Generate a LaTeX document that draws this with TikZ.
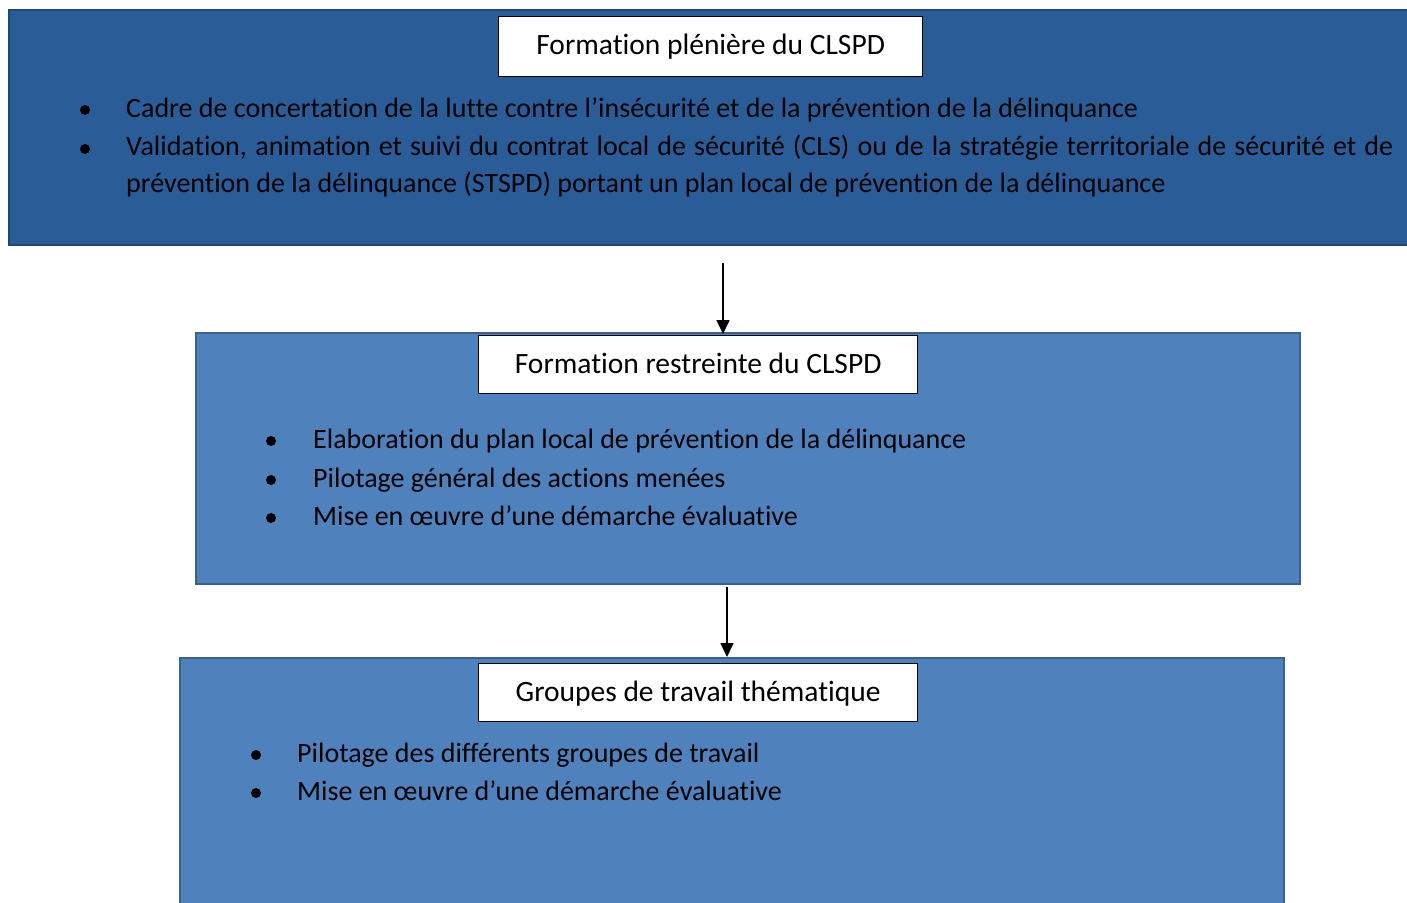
\documentclass[tikz,border=0pt]{standalone}
\usepackage{fontspec}
\setmainfont{Carlito}[RawFeature={-liga;-clig;-calt;-dlig}]
\usetikzlibrary{arrows.meta}
\definecolor{darkfill}{HTML}{2A5D98}
\definecolor{darkedge}{HTML}{1F4878}
\definecolor{midfill}{HTML}{4F81BD}
\definecolor{midedge}{HTML}{3A6090}
\tikzset{
  bigbox/.style={line width=2.5pt},
  titlebox/.style={draw=black, fill=white, line width=1.3pt, inner sep=0pt},
  txt/.style={anchor=base west, inner sep=0pt, font=\fontsize{28}{37}\selectfont},
  ttl/.style={inner sep=0pt, anchor=base, font=\fontsize{29.5}{36}\selectfont},
  bul/.style={circle, fill=black, inner sep=0pt, minimum size=10pt},
  conn/.style={line width=1.5pt, -{Triangle[width=13pt,length=14pt]}}
}
\begin{document}
\begin{tikzpicture}[x=1pt,y=-1pt]
\useasboundingbox (0,0) rectangle (1407,902);
\begin{scope}
\clip (0,0) rectangle (1407,902);
% box 1
\draw[bigbox, draw=darkedge, fill=darkfill] (9,10) rectangle (1420,245);
\node[titlebox, minimum width=424pt, minimum height=60pt, anchor=north west] (t1) at (498,16) {};
\node[ttl] at ([yshift=-8pt]t1.center) {Formation plénière du CLSPD};
\node[bul] (b11) at (85,110) {};
\node[bul] (b12) at (85,149) {};
\node[txt] (l11) at (126,117) {Cadre de concertation de la lutte contre l’insécurité et de la prévention de la délinquance};
\node[txt, text width=1267pt, align=justify] (l12) at (126,155)
 {Validation, animation et suivi du contrat local de sécurité (CLS) ou de la stratégie territoriale de sécurité et de\linebreak prévention de la délinquance (STSPD) portant un plan local de prévention de la délinquance};
% box 2
\draw[bigbox, draw=midedge, fill=midfill] (196,333) rectangle (1300,584);
\node[titlebox, minimum width=439pt, minimum height=58pt, anchor=north west] (t2) at (478,335) {};
\node[ttl] at ([yshift=-9pt]t2.center) {Formation restreinte du CLSPD};
\node[bul] at (271,441) {};
\node[bul] at (271,480) {};
\node[bul] at (271,518) {};
\node[txt] at (313,448) {Elaboration du plan local de prévention de la délinquance};
\node[txt] at (313,487) {Pilotage général des actions menées};
\node[txt] at (313,525) {Mise en œuvre d’une démarche évaluative};
% box 3
\draw[bigbox, draw=midedge, fill=midfill] (180,658) rectangle (1284,920);
\node[titlebox, minimum width=439pt, minimum height=58pt, anchor=north west] (t3) at (478,663) {};
\node[ttl] at ([yshift=-9pt]t3.center) {Groupes de travail thématique};
\node[bul] at (256,755) {};
\node[bul] at (256,793) {};
\node[txt] at (297,762) {Pilotage des différents groupes de travail};
\node[txt] at (297,800) {Mise en œuvre d’une démarche évaluative};
% arrows
\coordinate (a1s) at (723,263);
\coordinate (a1e) at (723,334);
\coordinate (a2s) at (727,587);
\coordinate (a2e) at (727,657);
\draw[conn] (a1s) -- (a1e);
\draw[conn] (a2s) -- (a2e);
\end{scope}
\end{tikzpicture}
\end{document}
